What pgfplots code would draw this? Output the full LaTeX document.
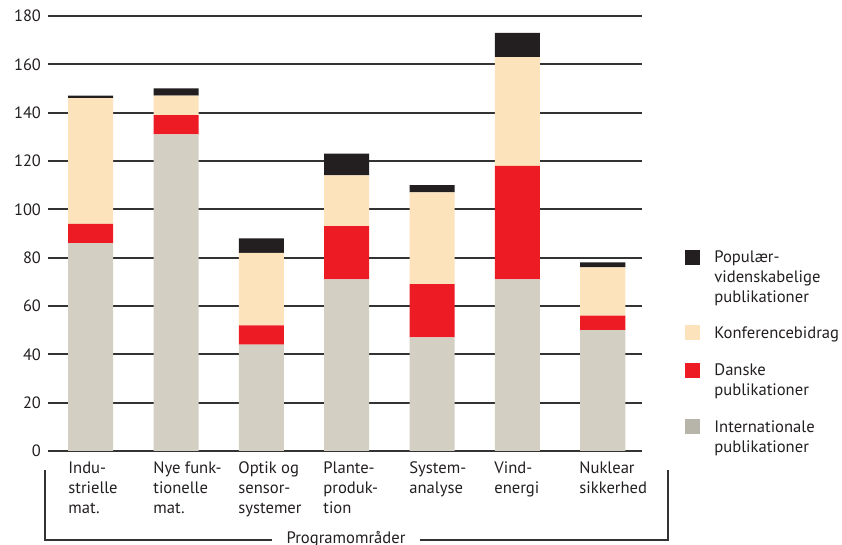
\documentclass[border=0pt]{standalone}
\usepackage{pgfplots}
\pgfplotsset{compat=1.18}
\usepackage{fontspec}
\setmainfont{PT Sans}
\definecolor{cgrey}{HTML}{D3D0C3}
\definecolor{cred}{HTML}{ED1C24}
\definecolor{cbeige}{HTML}{FDE3BB}
\definecolor{cblack}{HTML}{231F20}
\definecolor{cline}{HTML}{333333}
\definecolor{ctext}{HTML}{231F20}
\begin{document}
\begin{tikzpicture}
\begin{axis}[
  name=ax,
  scale only axis,
  width=297pt, height=217.5pt,
  xmin=-0.5, xmax=6.46,
  ymin=0, ymax=180,
  ytick={0,20,...,180},
  xtick=\empty,
  axis x line=bottom,
  axis y line=left,
  x axis line style={draw=cline, line width=0.9pt, -},
  y axis line style={draw=none},
  major tick length=0pt,
  ymajorgrids,
  grid style={draw=cline, line width=0.9pt},
  yticklabel style={font=\fontsize{8.2}{10}\selectfont, text=ctext},
  /pgf/number format/assume math mode=true,
  ybar stacked,
  bar width=22.5pt,
  clip=false,
]
\addplot[fill=cgrey, draw=none] coordinates {(0,86) (1,131) (2,44) (3,71) (4,47) (5,71) (6,50)};
\addplot[fill=cred, draw=none] coordinates {(0,8) (1,8) (2,8) (3,22) (4,22) (5,47) (6,6)};
\addplot[fill=cbeige, draw=none] coordinates {(0,52) (1,8) (2,30) (3,21) (4,38) (5,45) (6,20)};
\addplot[fill=cblack, draw=none] coordinates {(0,1) (1,3) (2,6) (3,9) (4,3) (5,10) (6,2)};
\end{axis}
\begin{scope}[shift={(ax.south west)}, xshift=-24pt, yshift=225.5pt, x=0.5pt, y=-0.5pt]
  % category labels
  \begin{scope}[every node/.style={anchor=north west, inner sep=0pt, align=left, font=\fontsize{8.3}{10}\selectfont, text=ctext}]
    \node at (68,461) {Indu-\\strielle\\mat.};
    \node at (153,461) {Nye funk-\\tionelle\\mat.};
    \node at (238,461) {Optik og\\sensor-\\systemer};
    \node at (323,461) {Plante-\\produk-\\tion};
    \node at (409,461) {System-\\analyse};
    \node at (494,461) {Vind-\\energi};
    \node at (579,461) {Nuklear\\sikkerhed};
  \end{scope}
  % bracket
  \draw[cline, line width=0.6pt] (272,540) -- (45,540) -- (45,470);
  \draw[cline, line width=0.6pt] (420,540) -- (668,540) -- (668,470);
  \node[font=\fontsize{8.3}{10}\selectfont, text=ctext, inner sep=0pt] at (346,539) {Programområder};
  % legend
  \fill[cblack] (685,250) rectangle (700,265);
  \fill[cbeige] (685,325) rectangle (700,340);
  \fill[cred] (685,363) rectangle (700,378);
  \fill[cgrey!85!black!95] (685,419) rectangle (700,434);
  \begin{scope}[every node/.style={anchor=north west, inner sep=0pt, align=left, font=\fontsize{8.3}{10}\selectfont, text=ctext}]
    \node at (714,250) {Populær-\\videnskabelige\\publikationer};
    \node at (714,326) {Konferencebidrag};
    \node at (714,363) {Danske\\publikationer};
    \node at (714,420) {Internationale\\publikationer};
  \end{scope}
  \pgfresetboundingbox
  \path (0,0) rectangle (842,545);
\end{scope}
\end{tikzpicture}
\end{document}
